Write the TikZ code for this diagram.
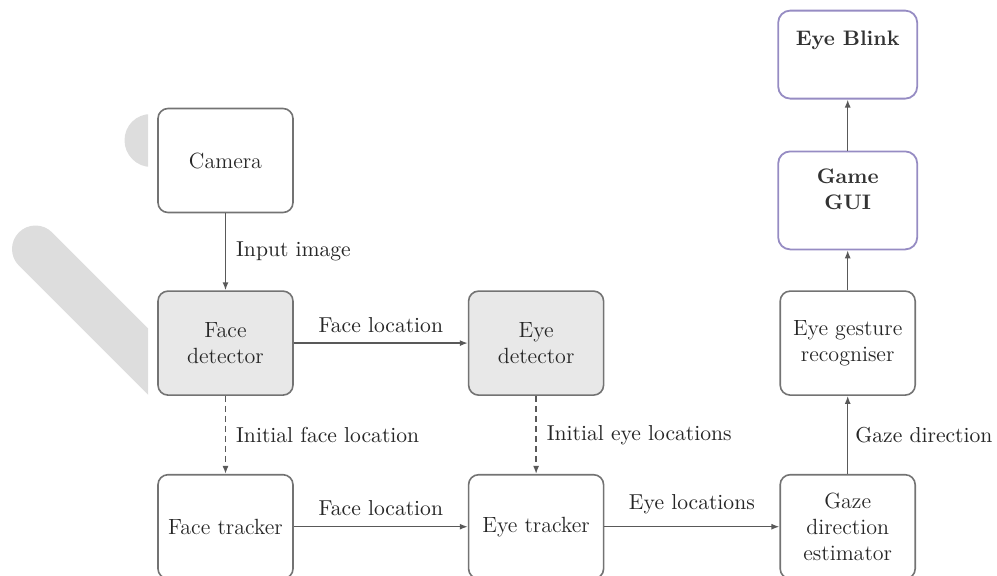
\documentclass[tikz,border=0pt]{standalone}
\usepackage{xcolor}
\usepackage{tikz}
\usetikzlibrary{positioning}
\usetikzlibrary{arrows.meta}
\definecolor{guiborder}{RGB}{150,140,195}
\definecolor{markgray}{RGB}{221,221,221}

\begin{document}
\begin{tikzpicture}[x=0.5pt, y=-0.5pt]
		% ------- style -------
		\tikzset{%
			block/.style={%
				draw=black!55, line width=0.8pt, rounded corners=5pt,
				minimum width=67.5pt, minimum height=52pt, inner sep=2pt,
				align=center, text=black!85,
				font=\fontsize{11}{13}\selectfont,
			},
			shaded/.style={block, fill=black!9},
			guiblock/.style={%
				draw=guiborder, line width=0.9pt, rounded corners=6pt,
				minimum width=69.5pt, inner sep=0pt,
			},
			guitext/.style={%
				font=\fontsize{10.5}{13}\selectfont\bfseries, text=black!80, align=center,
			},
			flow/.style={draw=black!65, line width=0.7pt, -{Latex[length=4pt, width=3pt]}},
			initial/.style={flow, dashed, dash pattern=on 3pt off 2pt},
			tag/.style={text=black!85, font=\fontsize{10.8}{13}\selectfont, inner sep=2pt},
			markstroke/.style={draw=markgray, line cap=round},
		}
		\useasboundingbox (0,0) rectangle (997,575);
		
		% ------- background strokes -------
		\begin{scope}
			\clip (0,0) rectangle (148,575);
			\draw[markstroke, line width=23.5pt] (35.5,249) -- (240,453.5);
			\draw[markstroke, line width=26.5pt] (151,140) -- (220,140);
		\end{scope}
		
		% ------- blocks -------
		\node[block] (camera) at (225.5,160.5) {Camera};
		\node[shaded, below=38.5pt of camera] (face-det) {Face\\detector};
		\node[block, below=39pt of face-det] (face-trk) {Face tracker};
		\node[shaded, right=87pt of face-det] (eye-det) {Eye\\detector};
		\node[block, below=39pt of eye-det] (eye-trk) {Eye tracker};
		\node[block, right=87.5pt of eye-trk] (gaze) {Gaze\\direction\\estimator};
		\node[block, above=39pt of gaze] (gesture) {Eye gesture\\recogniser};
		\node[guiblock, minimum height=49pt, above=20pt of gesture] (gui) {};
		\node[guiblock, minimum height=44pt, above=25.5pt of gui] (blink) {};
		\node[guitext] (gui-text) at ([yshift=5.5pt]gui.center) {Game\\GUI};
		\node[guitext, anchor=north] (blink-text) at ([yshift=-7pt]blink.north) {Eye Blink};
		
		% ------- connectors -------
		\draw[flow] (camera) -- node[tag, right=3pt] {Input image} (face-det);
		\draw[flow] (face-det) -- node[tag, above=3pt] {Face location} (eye-det);
		\draw[initial] (face-det) -- node[tag, right=3pt] {Initial face location} (face-trk);
		\draw[flow] (face-trk) -- node[tag, above=3pt] {Face location} (eye-trk);
		\draw[initial] (eye-det) -- node[tag, right=3pt] {Initial eye locations} (eye-trk);
		\draw[flow] (eye-trk) -- node[tag, above=4pt] {Eye locations} (gaze);
		\draw[flow] (gaze) -- node[tag, right=1.5pt] {Gaze direction} (gesture);
		\draw[flow] (gesture) -- (gui);
		\draw[flow] (gui) -- (blink);
	\end{tikzpicture}
\end{document}
